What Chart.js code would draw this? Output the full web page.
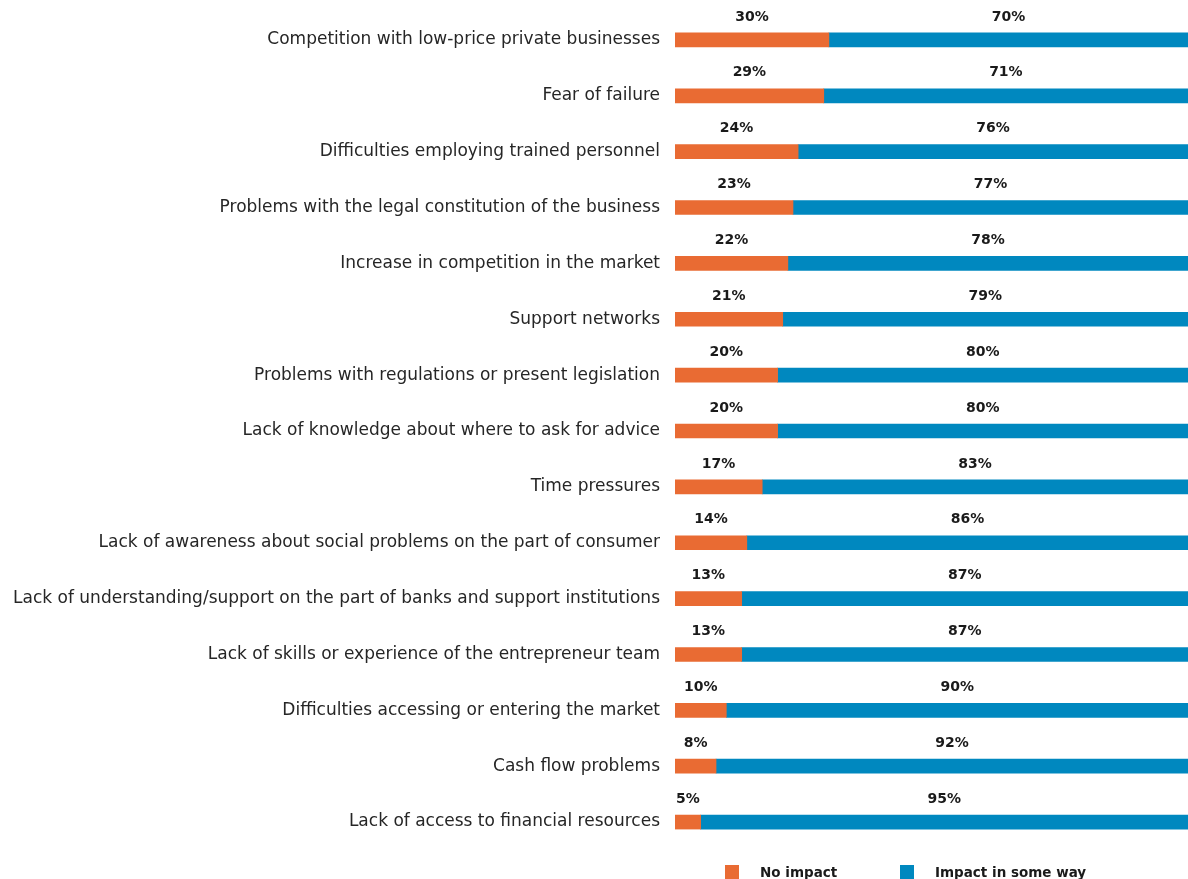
<!DOCTYPE html>
<html>
<head>
<meta charset="utf-8">
<script src="https://cdn.jsdelivr.net/npm/chart.js@4.4.1/dist/chart.umd.min.js"></script>
<style>
  html, body { margin: 0; padding: 0; background: #fff; }
  .wrap { position: relative; width: 1188px; height: 879px; overflow: hidden; }
  .legend { position: absolute; top: 864px; left: 725px; display: flex; font: bold 13.5px "DejaVu Sans", sans-serif; color: #1a1a1a; }
  .legend span.item { display: flex; align-items: center; }
  .legend span.item:first-child { width: 175px; }
  .legend i { display: inline-block; width: 14px; height: 14px; margin-right: 21px; }
</style>
</head>
<body>
<div class="wrap">
  <canvas id="chart_barriers" width="1188" height="879"></canvas>
  <div class="legend" id="legend_barriers"></div>
</div>
<script>
// ! Data
let categories = [
  "Competition with low-price private businesses",
  "Fear of failure",
  "Difficulties employing trained personnel",
  "Problems with the legal constitution of the business",
  "Increase in competition in the market",
  "Support networks",
  "Problems with regulations or present legislation",
  "Lack of knowledge about where to ask for advice",
  "Time pressures",
  "Lack of awareness about social problems on the part of consumer",
  "Lack of understanding/support on the part of banks and support institutions",
  "Lack of skills or experience of the entrepreneur team",
  "Difficulties accessing or entering the market",
  "Cash flow problems",
  "Lack of access to financial resources",
];
let noImpact = [30, 29, 24, 23, 22, 21, 20, 20, 17, 14, 13, 13, 10, 8, 5];
let impactSomeWay = [70, 71, 76, 77, 78, 79, 80, 80, 83, 86, 87, 87, 90, 92, 95];
let seriesNames = ["No impact", "Impact in some way"];
let seriesColors = ["#e96b33", "#0088bf"];

// ! Value labels above each segment
const valueLabels = {
  id: "valueLabels",
  afterDatasetsDraw(chart) {
    let ctx = chart.ctx;
    ctx.save();
    ctx.font = "bold 14px 'DejaVu Sans', sans-serif";
    ctx.fillStyle = "#1a1a1a";
    ctx.textAlign = "center";
    ctx.textBaseline = "middle";
    chart.data.datasets.forEach((ds, i) => {
      let meta = chart.getDatasetMeta(i);
      meta.data.forEach((bar, j) => {
        let cx = (bar.x + bar.base) / 2;
        ctx.fillText(ds.data[j] + "%", cx, bar.y - 23);
      });
    });
    ctx.restore();
  },
};

// ! Chart
const ctx = document.getElementById("chart_barriers");
new Chart(ctx, {
  type: "bar",
  data: {
    labels: categories,
    datasets: [
      {
        label: seriesNames[0],
        data: noImpact,
        backgroundColor: seriesColors[0],
        barThickness: 14,
        borderWidth: 0,
      },
      {
        label: seriesNames[1],
        data: impactSomeWay,
        backgroundColor: seriesColors[1],
        barThickness: 14,
        borderWidth: 0,
      },
    ],
  },
  options: {
    indexAxis: "y",
    responsive: false,
    animation: false,
    layout: {
      padding: { top: 12, bottom: 29, left: 0, right: 0 },
    },
    plugins: {
      legend: { display: false },
      tooltip: { enabled: false },
    },
    scales: {
      x: {
        stacked: true,
        min: 0,
        max: 100,
        display: false,
      },
      y: {
        stacked: true,
        grid: { display: false },
        border: { display: false },
        ticks: {
          padding: 7,
          color: "#262626",
          font: { family: "DejaVu Sans", size: 17 },
        },
        afterFit: (scale) => {
          scale.width = 675;
          scale.paddingTop = 0;
          scale.paddingBottom = 0;
        },
      },
    },
  },
  plugins: [valueLabels],
});

// ! Legend
let legendBox = document.getElementById("legend_barriers");
seriesNames.forEach((name, i) => {
  let item = document.createElement("span");
  item.className = "item";
  item.innerHTML = '<i style="background:' + seriesColors[i] + '"></i>' + name;
  legendBox.appendChild(item);
});
</script>
</body>
</html>
